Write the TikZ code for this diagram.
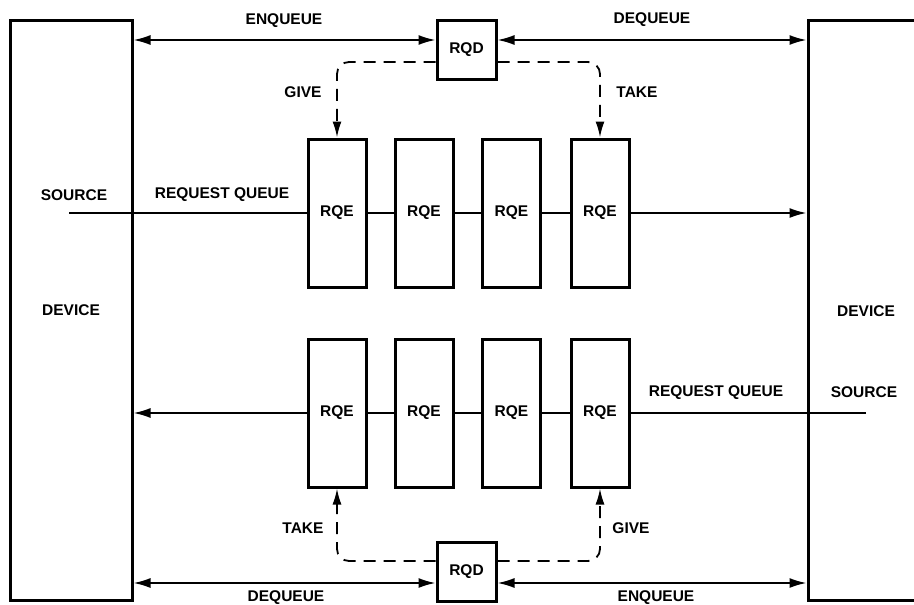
\documentclass[tikz,border=0pt]{standalone}
\usepackage{fontspec}
\setmainfont{Liberation Sans}
\usetikzlibrary{arrows.meta}
\begin{document}
\begin{tikzpicture}[x=1pt,y=-1pt,
  every node/.style={font=\fontsize{15.5}{18}\selectfont\bfseries},
  box/.style={draw,line width=3pt,inner sep=0pt},
  devbox/.style={box,minimum width=122pt,minimum height=580pt},
  rqebox/.style={box,minimum width=58pt,minimum height=148pt},
  rqdbox/.style={box,minimum width=59pt,minimum height=59pt},
  conn/.style={line width=1.8pt},
  tipend/.style={-{Latex[length=17pt,width=10pt]}},
  tipboth/.style={{Latex[length=17pt,width=10pt]}-{Latex[length=17pt,width=10pt]}},
  dashconn/.style={conn,dash pattern=on 12pt off 8pt,rounded corners=12pt,-{Latex[length=16pt,width=9pt]}},
  lbl/.style={inner sep=1pt}
]
\fill[white] (0,0) rectangle (914,605);
\useasboundingbox (0,0) rectangle (914,605);

% devices
\node[devbox] (devL) at (71,310.5) {DEVICE};
\node[devbox] (devR) at (869,310.5) {};
\node[lbl] (devRtxt) at (866,311) {DEVICE};

% RQD boxes
\node[rqdbox] (rqdT) at (466.5,50) {RQD};
\node[rqdbox] (rqdB) at (466.5,572) {RQD};

% RQE top row
\node[rqebox] (t1) at (337,213) {RQE};
\node[rqebox] (t2) at (424,213) {RQE};
\node[rqebox] (t3) at (511.5,213) {RQE};
\node[rqebox] (t4) at (600,213) {RQE};
% RQE bottom row
\node[rqebox] (b1) at (337,413) {RQE};
\node[rqebox] (b2) at (424,413) {RQE};
\node[rqebox] (b3) at (511.5,413) {RQE};
\node[rqebox] (b4) at (600,413) {RQE};

% coordinates for free ends
\coordinate (srcL) at (69,213);
\coordinate (srcR) at (866,413);

% queue lines
\draw[conn] (srcL) -- (t1.west);
\draw[conn] (t1.east) -- (t2.west);
\draw[conn] (t2.east) -- (t3.west);
\draw[conn] (t3.east) -- (t4.west);
\draw[conn,tipend] (t4.east) -- (t4.east -| devR.west);

\draw[conn] (srcR) -- (b4.east);
\draw[conn] (b4.west) -- (b3.east);
\draw[conn] (b3.west) -- (b2.east);
\draw[conn] (b2.west) -- (b1.east);
\draw[conn,tipend] (b1.west) -- (b1.west -| devL.east);

% enqueue / dequeue
\draw[conn,tipboth] ([yshift=10pt]rqdT.west -| devL.east) -- ([yshift=10pt]rqdT.west);
\draw[conn,tipboth] ([yshift=10pt]rqdT.east) -- ([yshift=10pt]rqdT.east -| devR.west);
\draw[conn,tipboth] ([yshift=-11pt]rqdB.west -| devL.east) -- ([yshift=-11pt]rqdB.west);
\draw[conn,tipboth] ([yshift=-11pt]rqdB.east) -- ([yshift=-11pt]rqdB.east -| devR.west);

% give / take
\draw[dashconn] ([yshift=-12pt]rqdT.west) -| (t1.north);
\draw[dashconn] ([yshift=-12pt]rqdT.east) -| (t4.north);
\draw[dashconn] ([yshift=11pt]rqdB.west) -| (b1.south);
\draw[dashconn] ([yshift=11pt]rqdB.east) -| (b4.south);

% labels
\node[lbl] (lEnqT) at (284,21) {ENQUEUE};
\node[lbl] (lDeqT) at (652,20) {DEQUEUE};
\node[lbl] (lGiveT) at (303,92) {GIVE};
\node[lbl] (lTakeT) at (637,92) {TAKE};
\node[lbl] (lSrcL) at (74,195) {SOURCE};
\node[lbl] (lRqL) at (222,195) {REQUEST QUEUE};
\node[lbl] (lRqR) at (716,393) {REQUEST QUEUE};
\node[lbl] (lSrcR) at (864,392) {SOURCE};
\node[lbl] (lTakeB) at (303,528) {TAKE};
\node[lbl] (lGiveB) at (631,528) {GIVE};
\node[lbl] (lDeqB) at (286,598) {DEQUEUE};
\node[lbl] (lEnqB) at (656,598) {ENQUEUE};
\end{tikzpicture}
\end{document}
